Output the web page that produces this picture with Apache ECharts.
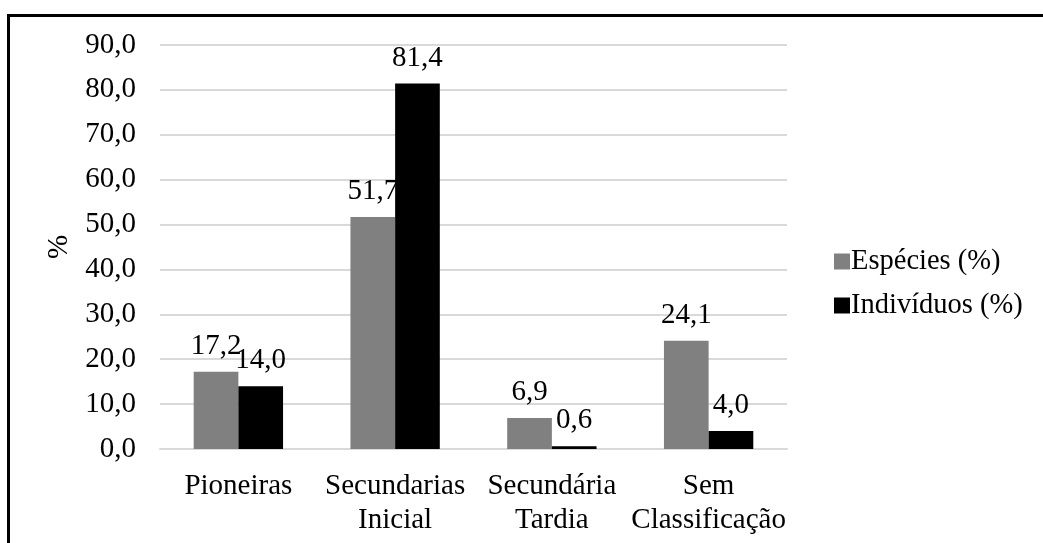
<!DOCTYPE html>
<html>
<head>
<meta charset="utf-8">
<script src="https://cdn.jsdelivr.net/npm/echarts@6/dist/echarts.min.js"></script>
<style>
  html, body { margin: 0; padding: 0; background: #fff; }
  #chart { width: 1043px; height: 543px; }
  .frame { position: absolute; left: 7px; top: 14px; width: 1100px; height: 600px;
           border-left: 3px solid #000; border-top: 3px solid #000; pointer-events: none; }
</style>
</head>
<body>
<div id="chart"></div>
<div class="frame"></div>
<script>
const categories = ['Pioneiras', 'Secundarias\nInicial', 'Secundária\nTardia', 'Sem\nClassificação']
const especies = [17.2, 51.7, 6.9, 24.1]
const individuos = [14.0, 81.4, 0.6, 4.0]

const fmt = v => Number(v).toFixed(1).replace('.', ',')
const font = '"Liberation Serif", serif'

const chart = echarts.init(document.getElementById('chart'))

// rótulos de valor em cima das barras
const barLabel = { show: true, position: 'top', distance: 11, color: '#000', fontSize: 29, fontFamily: font, formatter: p => fmt(p.value) }

chart.setOption({
  animation: false,
  textStyle: { fontFamily: font },
  grid: { left: 160, right: 256, top: 45, bottom: 94 },
  legend: {
    orient: 'vertical',
    left: 829,
    top: 242,
    itemWidth: 16,
    itemHeight: 16,
    itemGap: 15,
    icon: 'rect',
    textStyle: { fontFamily: font, fontSize: 28.5, color: '#000', padding: [0, 0, 0, -4] },
    data: ['Espécies (%)', 'Indivíduos (%)']
  },
  xAxis: {
    type: 'category',
    data: categories,
    axisLine: { lineStyle: { color: '#d9d9d9', width: 2 } },
    axisTick: { show: false },
    axisLabel: { color: '#000', fontSize: 29, fontFamily: font, margin: 20, lineHeight: 34, interval: 0 }
  },
  yAxis: {
    type: 'value',
    min: 0,
    max: 90,
    interval: 10,
    name: '%',
    nameLocation: 'middle',
    nameGap: 86,
    nameTextStyle: { color: '#000', fontSize: 29, fontFamily: font },
    axisLabel: { color: '#000', fontSize: 29, fontFamily: font, margin: 24, formatter: fmt },
    splitLine: { lineStyle: { color: '#d9d9d9', width: 2 } }
  },
  series: [
    {
      name: 'Espécies (%)',
      type: 'bar',
      data: especies,
      barGap: '0%',
      barCategoryGap: '43%',
      itemStyle: { color: '#808080' },
      label: barLabel
    },
    {
      name: 'Indivíduos (%)',
      type: 'bar',
      data: individuos,
      itemStyle: { color: '#000000' },
      label: barLabel
    }
  ]
})
</script>
</body>
</html>
